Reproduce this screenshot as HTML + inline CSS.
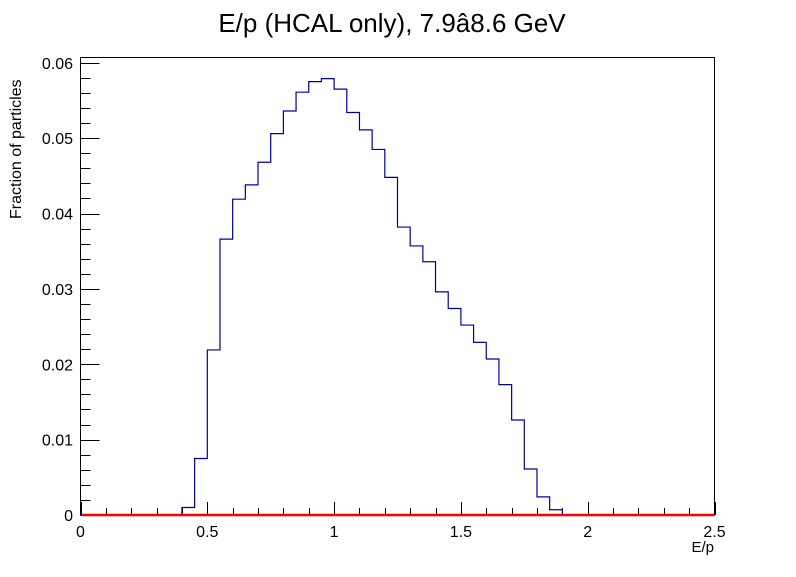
<!DOCTYPE html>
<html><head><meta charset="utf-8"><style>
body{margin:0;background:#fff;}
svg text{font-family:"Liberation Sans",Arial,sans-serif;}
</style></head><body>
<svg id="chart" width="796" height="572" xmlns="http://www.w3.org/2000/svg">
<rect width="796" height="572" fill="#fff"/>
<text x="392" y="32" font-size="26" text-anchor="middle">E/p (HCAL only), 7.9â8.6 GeV</text>
<rect x="80.5" y="57.5" width="634" height="457.5" fill="none" stroke="#000" stroke-width="1"/>
<g id="axes"></g>
<path id="hist" fill="none" stroke="#0000a0" stroke-width="1.2"/>
<line id="zeroline" stroke="#ff0000" stroke-width="2.5"/>
<text x="714" y="552" font-size="15" text-anchor="end">E/p</text>
<text transform="translate(21,219) rotate(-90)" font-size="16" text-anchor="start">Fraction of particles</text>
</svg>
<script>
const binLow = [0.40,0.45,0.50,0.55,0.60,0.65,0.70,0.75,0.80,0.85,0.90,0.95,1.00,1.05,1.10,1.15,1.20,1.25,1.30,1.35,1.40,1.45,1.50,1.55,1.60,1.65,1.70,1.75,1.80,1.85];
const fractions = [0.0010,0.0075,0.0219,0.0366,0.0419,0.0438,0.0468,0.0506,0.0536,0.0561,0.0575,0.0579,0.0565,0.0534,0.0511,0.0485,0.0448,0.0382,0.0357,0.0336,0.0296,0.0274,0.0252,0.0229,0.0207,0.0173,0.0126,0.0061,0.0024,0.0007];
const binWidth = 0.05;
const xTicks = ["0","0.5","1","1.5","2","2.5"];
const yTicks = ["0","0.01","0.02","0.03","0.04","0.05","0.06"];
const X0=80.5,X1=714.5,Y0=515,Y1=57.5;
const xs=v=>X0+(v/2.5)*(X1-X0);
const ys=v=>Y0-(v/0.0607)*(Y0-Y1);
const ns="http://www.w3.org/2000/svg";
const ax=document.getElementById('axes');
function ln(x1,y1,x2,y2,name){const l=document.createElementNS(ns,'line');l.setAttribute('x1',x1);l.setAttribute('y1',y1);l.setAttribute('x2',x2);l.setAttribute('y2',y2);l.setAttribute('stroke','#000');l.setAttribute('stroke-width','1');


ax.appendChild(l);}
function tx(x,y,s,anchor,name){const t=document.createElementNS(ns,'text');t.setAttribute('x',x);t.setAttribute('y',y);t.setAttribute('font-size','16');t.setAttribute('text-anchor',anchor);t.textContent=s;


ax.appendChild(t);}
for(let i=0;i<=25;i++){const v=i*0.1;const x=Math.round(xs(v))+0.5;ln(x,Y0,x,Y0-(i%5===0?13:7),'x-tick');}
xTicks.forEach(s=>{tx(xs(parseFloat(s)),537,s,'middle','x-tick-label');});
for(let i=0;i<=30;i++){const v=i*0.002;const y=Math.round(ys(v))+0.5;ln(X0,y,X0+(i%5===0?19:10),y,'y-tick');}
yTicks.forEach(s=>{tx(73,ys(parseFloat(s))+6,s,'end','y-tick-label');});
let d='M'+xs(0)+','+ys(0)+' L'+xs(binLow[0])+','+ys(0);
binLow.forEach((b,i)=>{d+=' L'+xs(b)+','+ys(fractions[i])+' L'+xs(b+binWidth)+','+ys(fractions[i]);});
d+=' L'+xs(binLow[binLow.length-1]+binWidth)+','+ys(0)+' L'+xs(2.5)+','+ys(0);
document.getElementById('hist').setAttribute('d',d);
const z=document.getElementById('zeroline');
z.setAttribute('x1',xs(0)+2);z.setAttribute('x2',xs(2.5));z.setAttribute('y1',ys(0));z.setAttribute('y2',ys(0));
</script>
</body></html>
